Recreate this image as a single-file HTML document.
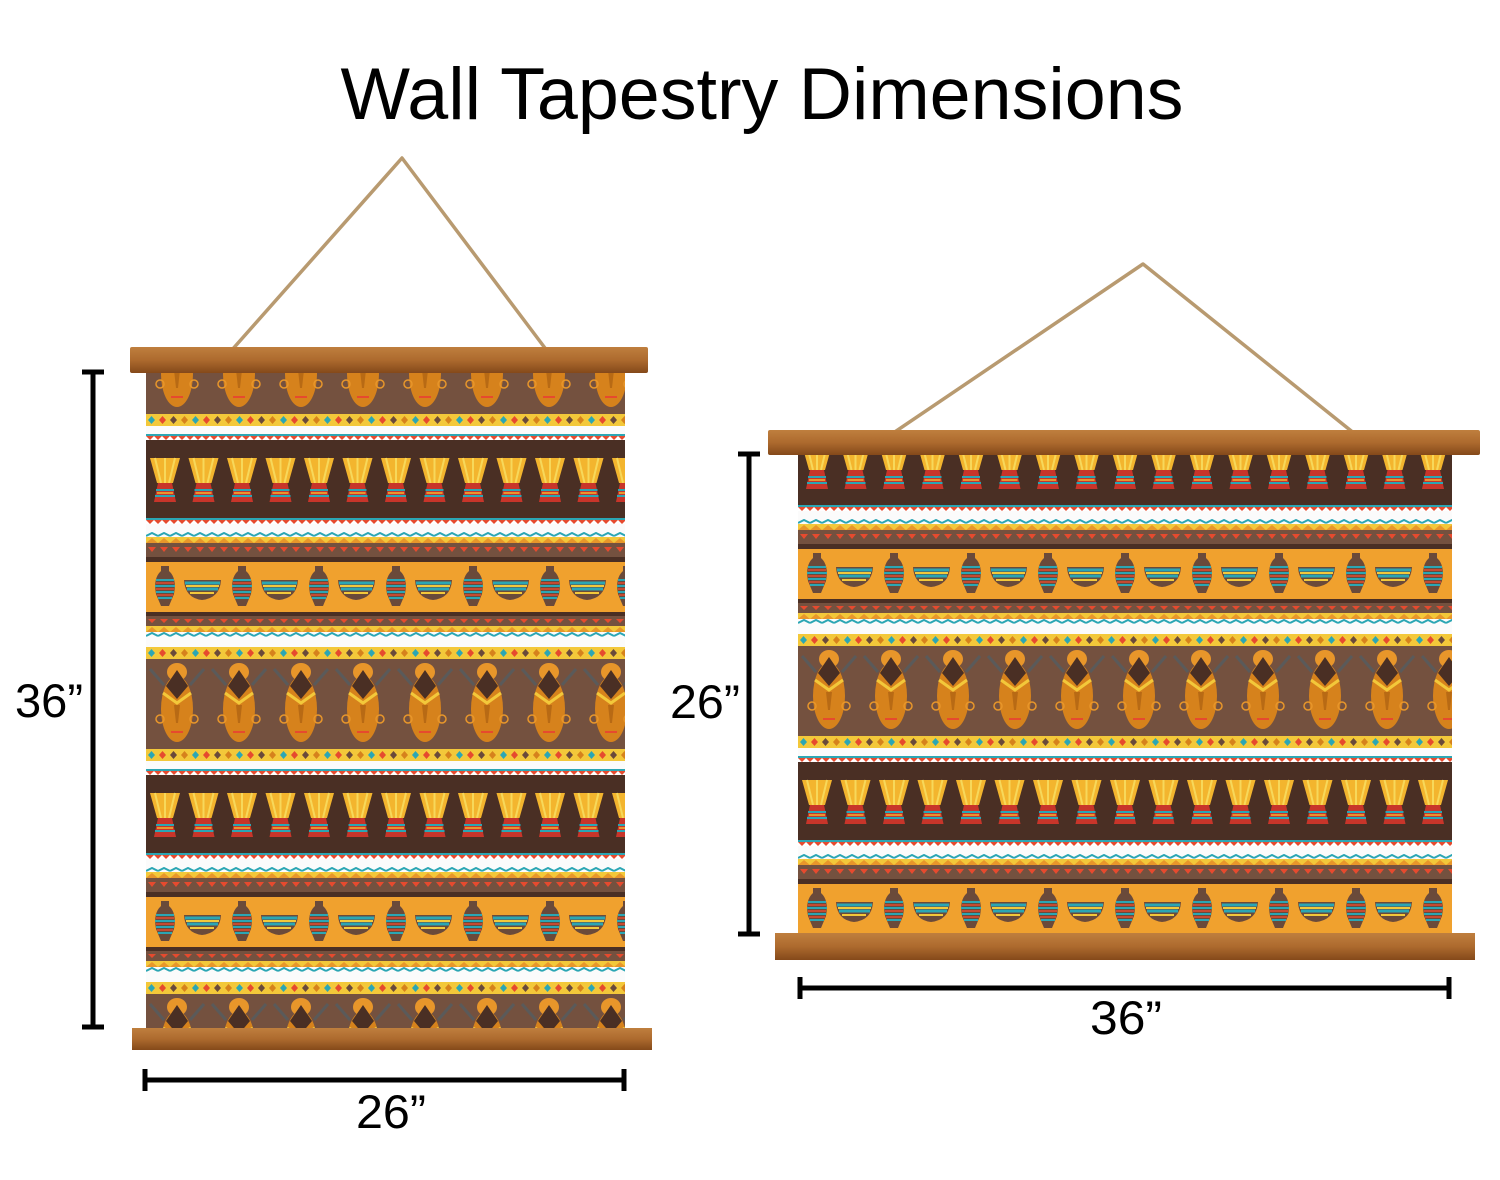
<!DOCTYPE html>
<html><head><meta charset="utf-8"><style>
html,body{margin:0;padding:0;background:#fff;}
svg{display:block;}
</style></head><body>
<svg width="1500" height="1180" viewBox="0 0 1500 1180" xmlns="http://www.w3.org/2000/svg">
<defs>
  <linearGradient id="wood" x1="0" y1="0" x2="0" y2="1">
    <stop offset="0" stop-color="#bf7f3e"/><stop offset="0.5" stop-color="#ad6a2e"/><stop offset="1" stop-color="#84491a"/>
  </linearGradient>
  <pattern id="drums" width="38.5" height="78" patternUnits="userSpaceOnUse">
    <rect width="38.5" height="78" fill="#4a2f24"/>
    <path d="M4 18 H34 L27 43 H11 Z" fill="#f3b52e"/>
    <path d="M9 18 L15 43 M19 18 V43 M29 18 L23 43" stroke="#f7d85a" stroke-width="2"/>
    <path d="M12 43 H26 L30 62 H8 Z" fill="#c8352a"/>
    <path d="M10 50 H28 M9 56 H29" stroke="#2ba6b4" stroke-width="2"/>
    <path d="M11 53 H27" stroke="#f3b52e" stroke-width="1.5"/>
  </pattern>
  <pattern id="vases" width="77" height="50" patternUnits="userSpaceOnUse">
    <rect width="77" height="50" fill="#f0a12e"/>
    <path d="M15 4 H23 V9 Q31 16 28 32 L23 44 H15 L10 32 Q7 16 15 9 Z" fill="#6a4a3a"/>
    <path d="M10 18 H28 M9 24 H29 M10 30 H28 M12 36 H26" stroke="#2ba6b4" stroke-width="2"/>
    <path d="M10 21 H28 M10 27 H28 M11 33 H27" stroke="#e64a2e" stroke-width="1.5"/>
    <path d="M38 18 H75 Q74 36 56 38 Q39 36 38 18 Z" fill="#6a4a3a"/>
    <path d="M39 21 H74 M41 27 H72" stroke="#2ba6b4" stroke-width="3"/>
    <path d="M40 24 H73 M44 31 H68" stroke="#f3c83a" stroke-width="2"/>
  </pattern>
  <pattern id="masks" width="62" height="90" patternUnits="userSpaceOnUse">
    <rect width="62" height="90" fill="#74513f"/>
    <path d="M4 10 L18 26 M58 10 L44 26" stroke="#5a5a5a" stroke-width="3"/>
    <ellipse cx="31" cy="50" rx="16" ry="33" fill="#d6821c"/>
    <ellipse cx="31" cy="13" rx="10" ry="9" fill="#e8962a"/>
    <path d="M31 11 L42 27 L31 40 L20 27 Z" fill="#4a2f24"/>
    <path d="M17 34 L31 44 L45 34" stroke="#f3c83a" stroke-width="3" fill="none"/>
    <path d="M28 46 H34 L32 64 H30 Z" fill="#b86a14"/>
    <path d="M25 73 H37" stroke="#e64a2e" stroke-width="2"/>
    <circle cx="14" cy="60" r="4" fill="none" stroke="#e8962a" stroke-width="1.5"/>
    <circle cx="48" cy="60" r="4" fill="none" stroke="#e8962a" stroke-width="1.5"/>
  </pattern>
  <pattern id="dia" width="44" height="12" patternUnits="userSpaceOnUse">
    <rect width="44" height="12" fill="#f3c83a"/>
    <path d="M5.5 2 L9 6 L5.5 10 L2 6 Z" fill="#2ba6b4"/>
    <path d="M16.5 2 L20 6 L16.5 10 L13 6 Z" fill="#e64a2e"/>
    <path d="M27.5 2 L31 6 L27.5 10 L24 6 Z" fill="#6a4a3a"/>
    <path d="M38.5 2 L42 6 L38.5 10 L35 6 Z" fill="#d6821c"/>
  </pattern>
  <pattern id="zigT" width="12" height="5" patternUnits="userSpaceOnUse">
    <rect width="12" height="5" fill="#fbfbfb"/>
    <path d="M0 4 L6 1 L12 4" stroke="#2ba6b4" stroke-width="2" fill="none"/>
  </pattern>
  <pattern id="zigY" width="12" height="6" patternUnits="userSpaceOnUse">
    <rect width="12" height="6" fill="#f3c83a"/><path d="M0 6 L6 1 L12 6Z" fill="#e8962a"/>
  </pattern>
  <pattern id="triR" width="12" height="14" patternUnits="userSpaceOnUse">
    <rect width="12" height="14" fill="#74513f"/><path d="M2 4 H10 L6 9 Z" fill="#e64a2e"/>
  </pattern>
  <pattern id="triR2" width="12" height="10" patternUnits="userSpaceOnUse">
    <rect width="12" height="10" fill="#74513f"/><path d="M2 3 H10 L6 7 Z" fill="#e64a2e"/>
  </pattern>
  <pattern id="redstrip" width="8" height="6" patternUnits="userSpaceOnUse">
    <rect width="8" height="6" fill="#fff"/><rect width="8" height="2" fill="#2ba6b4"/><path d="M0 2 H8 L4 6Z" fill="#e64a2e"/>
  </pattern>
  <g id="tile">
    <rect width="700" height="78" fill="url(#drums)"/>
    <rect transform="translate(0,78)" width="700" height="6" fill="url(#redstrip)"/>
    <rect y="84" width="700" height="8" fill="#fbfbfb"/>
    <rect transform="translate(0,92)" width="700" height="5" fill="url(#zigT)"/>
    <rect transform="translate(0,97)" width="700" height="6" fill="url(#zigY)"/>
    <rect transform="translate(0,103)" width="700" height="14" fill="url(#triR)"/>
    <rect y="117" width="700" height="5" fill="#4a2f24"/>
    <rect transform="translate(0,122)" width="700" height="50" fill="url(#vases)"/>
    <rect y="172" width="700" height="4" fill="#4a2f24"/>
    <rect transform="translate(0,176)" width="700" height="10" fill="url(#triR2)"/>
    <rect transform="translate(0,186)" width="700" height="6" fill="url(#zigY)"/>
    <rect transform="translate(0,192)" width="700" height="5" fill="url(#zigT)"/>
    <rect y="197" width="700" height="10" fill="#fbfbfb"/>
    <rect transform="translate(0,207)" width="700" height="12" fill="url(#dia)"/>
    <rect transform="translate(0,219)" width="700" height="90" fill="url(#masks)"/>
    <rect transform="translate(0,309)" width="700" height="12" fill="url(#dia)"/>
    <rect y="321" width="700" height="8" fill="#fbfbfb"/>
    <rect transform="translate(0,329)" width="700" height="6" fill="url(#redstrip)"/>
  </g>
  <clipPath id="clipL"><rect x="0" y="-72" width="479" height="662"/></clipPath>
  <clipPath id="clipR"><rect x="0" y="25" width="654" height="485"/></clipPath>
</defs>

<text x="762" y="119" font-family="Liberation Sans, Arial, sans-serif" font-size="73" text-anchor="middle" textLength="843" lengthAdjust="spacingAndGlyphs" fill="#000">Wall Tapestry Dimensions</text>

<path d="M223 360 L402 158 L554 360" stroke="#b89a70" stroke-width="3.5" fill="none" stroke-linejoin="round"/>
<g transform="translate(146,440)" clip-path="url(#clipL)">
  <use href="#tile" y="-335"/><use href="#tile" y="0"/><use href="#tile" y="335"/>
</g>
<rect x="130" y="347" width="518" height="26" fill="url(#wood)" rx="2"/>
<rect x="132" y="1028" width="520" height="22" fill="url(#wood)"/>

<path d="M880 442 L1143 264 L1365 442" stroke="#b89a70" stroke-width="3.5" fill="none" stroke-linejoin="round"/>
<g transform="translate(798,427)" clip-path="url(#clipR)">
  <use href="#tile" y="-335"/><use href="#tile" y="0"/><use href="#tile" y="335"/>
</g>
<rect x="768" y="430" width="712" height="25" fill="url(#wood)" rx="2"/>
<rect x="775" y="933" width="700" height="27" fill="url(#wood)"/>

<g stroke="#000" stroke-width="5" fill="none">
  <path d="M93 372 V1027 M82 372 H104 M82 1027 H104"/>
  <path d="M145 1080 H624 M145 1069 V1091 M624 1069 V1091"/>
  <path d="M749 454 V934 M738 454 H760 M738 934 H760"/>
  <path d="M800 988 H1449 M800 977 V999 M1449 977 V999"/>
</g>
<g font-family="Liberation Sans, Arial, sans-serif" font-size="47" fill="#000">
  <text x="15" y="717" textLength="68" lengthAdjust="spacingAndGlyphs">36”</text>
  <text x="356" y="1128" textLength="70" lengthAdjust="spacingAndGlyphs">26”</text>
  <text x="670" y="718" textLength="70" lengthAdjust="spacingAndGlyphs">26”</text>
  <text x="1090" y="1034" textLength="72" lengthAdjust="spacingAndGlyphs">36”</text>
</g>
</svg>
</body></html>
